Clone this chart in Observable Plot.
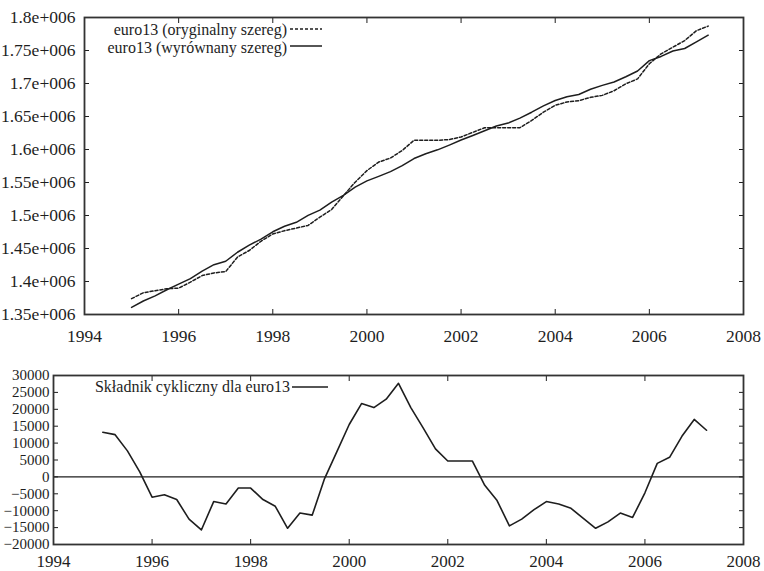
<!DOCTYPE html>
<html><head><meta charset="utf-8">
<script src="https://cdn.jsdelivr.net/npm/d3@7"></script>
<script src="https://cdn.jsdelivr.net/npm/@observablehq/plot@0.6"></script>
<style>body{margin:0;background:#fff} svg{display:block}</style>
</head><body><div id="chart"></div>
<script>
const quarters = [
  1995, 1995.25, 1995.5, 1995.75, 1996, 1996.25, 1996.5, 1996.75,
  1997, 1997.25, 1997.5, 1997.75, 1998, 1998.25, 1998.5, 1998.75,
  1999, 1999.25, 1999.5, 1999.75, 2000, 2000.25, 2000.5, 2000.75,
  2001, 2001.25, 2001.5, 2001.75, 2002, 2002.25, 2002.5, 2002.75,
  2003, 2003.25, 2003.5, 2003.75, 2004, 2004.25, 2004.5, 2004.75,
  2005, 2005.25, 2005.5, 2005.75, 2006, 2006.25, 2006.5, 2006.75,
  2007, 2007.25
];
const original = [
  1374000, 1383000, 1386000, 1389000, 1390000, 1399000, 1409000, 1413000,
  1415000, 1437000, 1447000, 1461000, 1472000, 1477000, 1481000, 1485000,
  1497500, 1509000, 1530000, 1550500, 1568000, 1581000, 1587000, 1598500,
  1614000, 1614000, 1614000, 1615000, 1619000, 1626000, 1633000, 1633000,
  1633000, 1633000, 1644000, 1656500, 1667000, 1672000, 1674000, 1679000,
  1682000, 1689000, 1699500, 1707000, 1730000, 1745000, 1755000, 1765000,
  1780000, 1787000
];
const smoothed = [
  1360800, 1370500, 1378300, 1387500, 1396000, 1404300, 1415700, 1425500,
  1430700, 1444300, 1455000, 1464300, 1475300, 1483700, 1489700, 1500200,
  1508200, 1520300, 1530500, 1543000, 1552500, 1559300, 1566500, 1575500,
  1586300, 1593500, 1599500, 1606700, 1614300, 1621300, 1628300, 1635500,
  1640000, 1647500, 1656500, 1666200, 1674300, 1680000, 1683300, 1691300,
  1697200, 1702300, 1710200, 1719000, 1734700, 1741000, 1749200, 1753000,
  1763000, 1773200
];
const cyclical = [
  13200, 12500, 7700, 1500, -6000, -5300, -6700, -12500,
  -15700, -7300, -8000, -3300, -3300, -6700, -8700, -15200,
  -10700, -11300, -500, 7500, 15500, 21700, 20500, 23000,
  27700, 20500, 14500, 8300, 4700, 4700, 4700, -2500,
  -7000, -14500, -12500, -9700, -7300, -8000, -9300, -12300,
  -15200, -13300, -10700, -12000, -4700, 4000, 5800, 12000,
  17000, 13800
];
const xTicks = [1994, 1996, 1998, 2000, 2002, 2004, 2006, 2008];
const yTicksTop = [1350000, 1400000, 1450000, 1500000, 1550000, 1600000, 1650000, 1700000, 1750000, 1800000];
const yTicksBottom = [-20000, -15000, -10000, -5000, 0, 5000, 10000, 15000, 20000, 25000, 30000];
const legendTop = ["euro13 (oryginalny szereg)", "euro13 (wyrównany szereg)"];
const legendBottom = "Składnik cykliczny dla euro13";

const data = quarters.map((t, i) => ({t, orig: original[i], trend: smoothed[i], cyc: cyclical[i]}));
const ink = "#1e1e1e";
const font = "Liberation Serif, DejaVu Serif, serif";
const style = {fontFamily: font, fontSize: "17px", color: ink, background: "#fff", overflow: "visible"};
const fmtTop = d => `${+(d / 1e6).toFixed(2)}e+006`;

function axes(yTicks, yFmt, xPad, yPad, fsx, fsy) {
  return [
    Plot.axisX({ticks: xTicks, tickFormat: "d", tickSize: 0, tickPadding: xPad, label: null, fill: ink, fontSize: fsx, fontFamily: font}),
    Plot.axisX({ticks: xTicks, tickSize: -5, fill: "none", label: null, stroke: ink}),
    Plot.axisX({ticks: xTicks, anchor: "top", tickSize: -5, fill: "none", label: null, stroke: ink}),
    Plot.axisY({ticks: yTicks, tickFormat: yFmt, tickSize: 0, tickPadding: yPad, label: null, fill: ink, fontSize: fsy, fontFamily: font}),
    Plot.axisY({ticks: yTicks, tickSize: -5, fill: "none", label: null, stroke: ink}),
    Plot.axisY({ticks: yTicks, anchor: "right", tickSize: -5, fill: "none", label: null, stroke: ink})
  ];
}

const topChart = Plot.plot({
  width: 764, height: 345,
  marginTop: 17, marginBottom: 31, marginLeft: 84, marginRight: 21,
  style,
  x: {domain: [1994, 2008]},
  y: {domain: [1350000, 1800000]},
  marks: [
    ...axes(yTicksTop, fmtTop, 15, 9, 17.5, 17.5),
    Plot.line(data, {x: "t", y: "orig", stroke: ink, strokeWidth: 1.5, strokeDasharray: "3,2"}),
    Plot.line(data, {x: "t", y: "trend", stroke: ink, strokeWidth: 1.5}),
    Plot.frame({stroke: "#333", strokeWidth: 1.8})
  ]
});

const bottomChart = Plot.plot({
  width: 764, height: 226,
  marginTop: 30, marginBottom: 27, marginLeft: 53, marginRight: 21,
  style,
  x: {domain: [1994, 2008]},
  y: {domain: [-20000, 30000]},
  marks: [
    ...axes(yTicksBottom, "d", 10, 4, 17, 15),
    Plot.ruleY([0], {stroke: ink, strokeWidth: 1.4}),
    Plot.line(data, {x: "t", y: "cyc", stroke: ink, strokeWidth: 1.6}),
    Plot.frame({stroke: "#333", strokeWidth: 1.8})
  ]
});

// legends
const lg = d3.select(topChart).append("g").attr("font-family", font).attr("font-size", 16).attr("fill", ink);
legendTop.forEach((s, i) => {
  lg.append("text").attr("x", 287).attr("y", 35 + i * 18).attr("text-anchor", "end").text(s);
  lg.append("line").attr("x1", 290).attr("x2", 322).attr("y1", 29 + i * 17).attr("y2", 29 + i * 17)
    .attr("stroke", ink).attr("stroke-width", 1.5).attr("stroke-dasharray", i === 0 ? "3,2" : null);
});
const lb = d3.select(bottomChart).append("g").attr("font-family", font).attr("font-size", 16).attr("fill", ink);
lb.append("text").attr("x", 290).attr("y", 47).attr("text-anchor", "end").text(legendBottom);
lb.append("line").attr("x1", 292).attr("x2", 328).attr("y1", 42).attr("y2", 42).attr("stroke", ink).attr("stroke-width", 1.5);

document.getElementById("chart").append(topChart, bottomChart);
</script></body></html>
